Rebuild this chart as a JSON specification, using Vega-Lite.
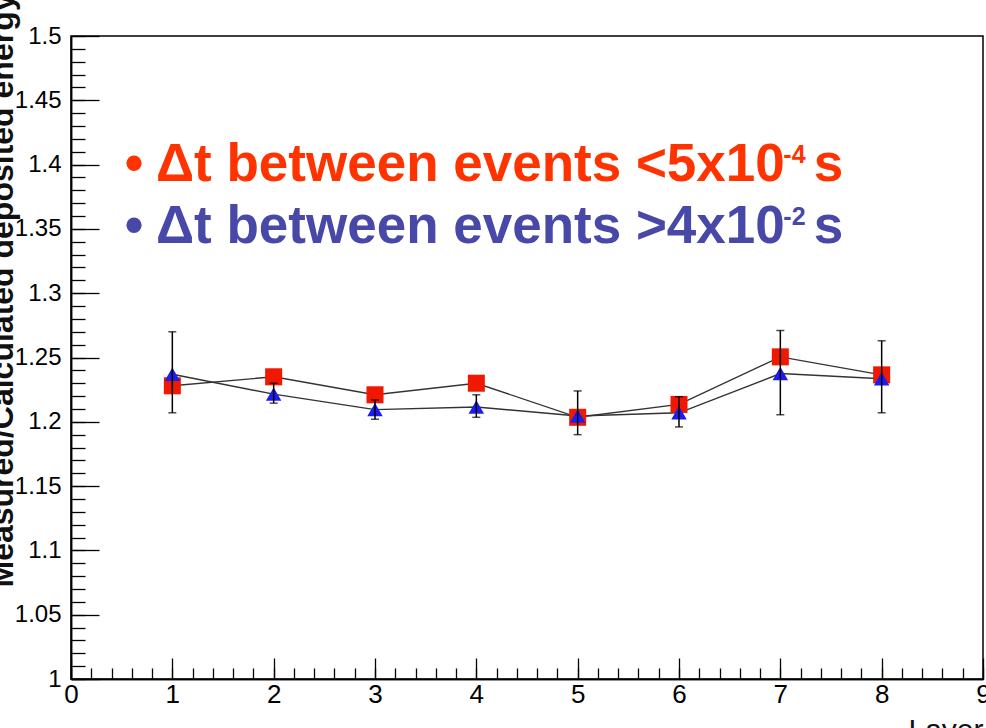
{
  "$schema": "https://vega.github.io/schema/vega-lite/v6.json",
  "width": 912,
  "height": 643,
  "autosize": {"type": "none"},
  "padding": {"left": 71, "top": 36, "right": 3, "bottom": 49},
  "background": "white",
  "config": {
    "view": {"stroke": "#000", "strokeWidth": 1.5},
    "axis": {
      "domainColor": "#000", "domainWidth": 1.5, "tickColor": "#000", "tickWidth": 1.3,
      "grid": false, "labelFont": "Liberation Sans", "titleFont": "Liberation Sans",
      "labelColor": "#000", "titleColor": "#111", "labelFlush": false, "labelOverlap": false
    }
  },
  "datasets": {
    "pts": [
      {"layer": 1, "series": "short", "value": 1.228},
      {"layer": 2, "series": "short", "value": 1.235},
      {"layer": 3, "series": "short", "value": 1.221},
      {"layer": 4, "series": "short", "value": 1.230},
      {"layer": 5, "series": "short", "value": 1.2035},
      {"layer": 6, "series": "short", "value": 1.2135},
      {"layer": 7, "series": "short", "value": 1.2505},
      {"layer": 8, "series": "short", "value": 1.2365},
      {"layer": 1, "series": "long", "value": 1.237, "lo": 1.207, "hi": 1.270},
      {"layer": 2, "series": "long", "value": 1.2215, "lo": 1.2145, "hi": 1.230},
      {"layer": 3, "series": "long", "value": 1.2095, "lo": 1.202, "hi": 1.217},
      {"layer": 4, "series": "long", "value": 1.2115, "lo": 1.2035, "hi": 1.221},
      {"layer": 5, "series": "long", "value": 1.2045, "lo": 1.19, "hi": 1.224},
      {"layer": 6, "series": "long", "value": 1.207, "lo": 1.196, "hi": 1.2195},
      {"layer": 7, "series": "long", "value": 1.2375, "lo": 1.2055, "hi": 1.271},
      {"layer": 8, "series": "long", "value": 1.2335, "lo": 1.207, "hi": 1.263}
    ]
  },
  "data": {"name": "pts"},
  "layer": [
    {
      "mark": {"type": "line", "color": "#333", "strokeWidth": 1.4},
      "encoding": {
        "x": {"field": "layer", "type": "quantitative", "scale": {"domain": [0, 9], "nice": false, "zero": false},
              "axis": {"orient": "bottom", "values": [0,0.2,0.4,0.6,0.8,1,1.2,1.4,1.6,1.8,2,2.2,2.4,2.6,2.8,3,3.2,3.4,3.6,3.8,4,4.2,4.4,4.6,4.8,5,5.2,5.4,5.6,5.8,6,6.2,6.4,6.6,6.8,7,7.2,7.4,7.6,7.8,8,8.2,8.4,8.6,8.8,9],
                       "tickSize": -11, "labels": false, "title": null}},
        "y": {"field": "value", "type": "quantitative", "scale": {"domain": [1, 1.5], "nice": false, "zero": false},
              "axis": {"orient": "left", "values": [1,1.01,1.02,1.03,1.04,1.05,1.06,1.07,1.08,1.09,1.1,1.11,1.12,1.13,1.14,1.15,1.16,1.17,1.18,1.19,1.2,1.21,1.22,1.23,1.24,1.25,1.26,1.27,1.28,1.29,1.3,1.31,1.32,1.33,1.34,1.35,1.36,1.37,1.38,1.39,1.4,1.41,1.42,1.43,1.44,1.45,1.46,1.47,1.48,1.49,1.5],
                       "tickSize": -14, "labels": false, "title": null}},
        "detail": {"field": "series"}
      }
    },
    {
      "transform": [{"filter": "datum.series === 'short'"}],
      "mark": {"type": "point", "shape": "square", "filled": true, "opacity": 1, "color": "#f01800", "size": 290},
      "encoding": {
        "x": {"field": "layer", "type": "quantitative",
              "axis": {"orient": "bottom", "values": [0,1,2,3,4,5,6,7,8,9], "format": "d", "tickSize": -21, "labelPadding": 23,
                       "labelFontSize": 26, "labelBaseline": "top",
                       "title": "Layer", "titleFontSize": 30, "titleFontWeight": "normal", "titleAnchor": "end", "titleAlign": "right",
                       "titleX": 912, "titleY": 60, "titleBaseline": "alphabetic"}},
        "y": {"field": "value", "type": "quantitative",
              "axis": {"orient": "left", "values": [1,1.05,1.1,1.15,1.2,1.25,1.3,1.35,1.4,1.45,1.5], "format": "~g", "tickSize": -28, "labelPadding": 38,
                       "labelFontSize": 24,
                       "title": "Measured/Calculated deposited energy", "titleFontSize": 32, "titleFontWeight": "bold", "titleAngle": -90,
                       "titleX": -59, "titleY": 254, "titleAlign": "center", "titleBaseline": "alphabetic"}}
      }
    },
    {
      "transform": [{"filter": "datum.series === 'long'"}],
      "mark": {"type": "point", "shape": "triangle-up", "filled": true, "opacity": 1, "color": "#1c1cf0", "size": 240},
      "encoding": {
        "x": {"field": "layer", "type": "quantitative", "axis": null},
        "y": {"field": "value", "type": "quantitative", "axis": null}
      }
    },
    {
      "transform": [{"filter": "datum.series === 'long'"}],
      "mark": {"type": "errorbar", "color": "#000", "thickness": 1.5, "ticks": {"size": 8}},
      "encoding": {
        "x": {"field": "layer", "type": "quantitative", "axis": null},
        "y": {"field": "lo", "type": "quantitative", "axis": null},
        "y2": {"field": "hi"}
      }
    },
    {
      "data": {"values": [{"label": "• Δt between events <5x10"}]},
      "mark": {"type": "text", "align": "left", "baseline": "alphabetic", "font": "Liberation Sans", "fontWeight": "bold", "fontSize": 53, "color": "#ff3300"},
      "encoding": {
        "x": {"datum": 0.53, "type": "quantitative", "axis": null},
        "y": {"datum": 1.387, "type": "quantitative", "axis": null},
        "text": {"field": "label"}
      }
    },
    {
      "data": {"values": [{"label": "-4"}]},
      "mark": {"type": "text", "align": "left", "baseline": "alphabetic", "font": "Liberation Sans", "fontWeight": "bold", "fontSize": 25, "color": "#ff3300"},
      "encoding": {
        "x": {"datum": 7.03, "type": "quantitative", "axis": null},
        "y": {"datum": 1.401, "type": "quantitative", "axis": null},
        "text": {"field": "label"}
      }
    },
    {
      "data": {"values": [{"label": "s"}]},
      "mark": {"type": "text", "align": "left", "baseline": "alphabetic", "font": "Liberation Sans", "fontWeight": "bold", "fontSize": 53, "color": "#ff3300"},
      "encoding": {
        "x": {"datum": 7.33, "type": "quantitative", "axis": null},
        "y": {"datum": 1.387, "type": "quantitative", "axis": null},
        "text": {"field": "label"}
      }
    },
    {
      "data": {"values": [{"label": "• Δt between events >4x10"}]},
      "mark": {"type": "text", "align": "left", "baseline": "alphabetic", "font": "Liberation Sans", "fontWeight": "bold", "fontSize": 53, "color": "#4848a8"},
      "encoding": {
        "x": {"datum": 0.53, "type": "quantitative", "axis": null},
        "y": {"datum": 1.339, "type": "quantitative", "axis": null},
        "text": {"field": "label"}
      }
    },
    {
      "data": {"values": [{"label": "-2"}]},
      "mark": {"type": "text", "align": "left", "baseline": "alphabetic", "font": "Liberation Sans", "fontWeight": "bold", "fontSize": 25, "color": "#4848a8"},
      "encoding": {
        "x": {"datum": 7.03, "type": "quantitative", "axis": null},
        "y": {"datum": 1.353, "type": "quantitative", "axis": null},
        "text": {"field": "label"}
      }
    },
    {
      "data": {"values": [{"label": "s"}]},
      "mark": {"type": "text", "align": "left", "baseline": "alphabetic", "font": "Liberation Sans", "fontWeight": "bold", "fontSize": 53, "color": "#4848a8"},
      "encoding": {
        "x": {"datum": 7.33, "type": "quantitative", "axis": null},
        "y": {"datum": 1.339, "type": "quantitative", "axis": null},
        "text": {"field": "label"}
      }
    }
  ],
  "resolve": {"axis": {"x": "independent", "y": "independent"}}
}
